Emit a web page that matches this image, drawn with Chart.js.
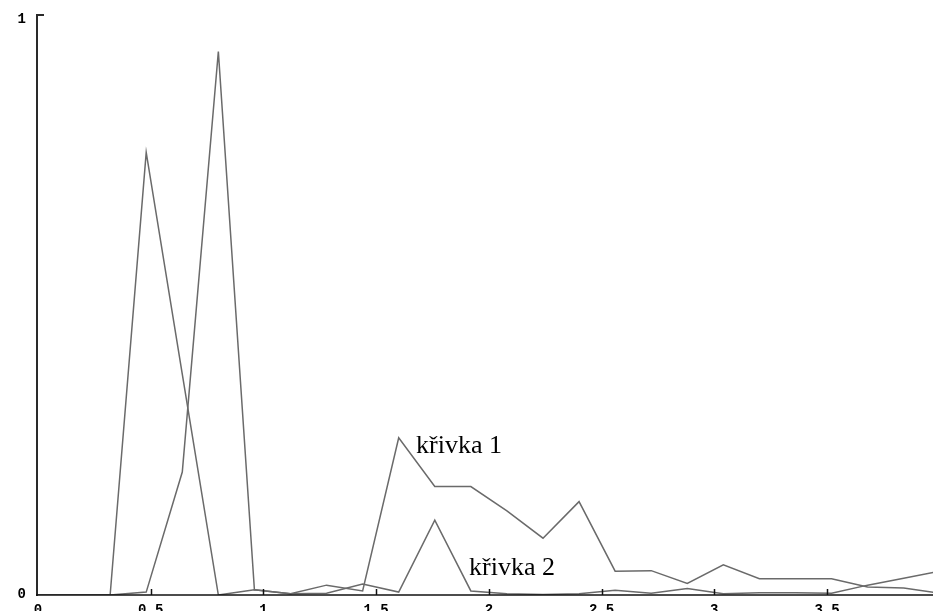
<!DOCTYPE html>
<html>
<head>
<meta charset="utf-8">
<script src="https://cdn.jsdelivr.net/npm/chart.js@4/dist/chart.umd.min.js"></script>
<style>
html,body{margin:0;padding:0;background:#fff;overflow:hidden;}
#wrap{width:933px;height:611px;position:relative;}
</style>
</head>
<body>
<div id="wrap"><canvas id="c" width="933" height="611"></canvas></div>
<script>
// x positions of samples
const xValues = [0, 0.16, 0.32, 0.48, 0.64, 0.80, 0.96, 1.12, 1.28, 1.44, 1.60, 1.76, 1.92,
                 2.08, 2.24, 2.40, 2.56, 2.72, 2.88, 3.04, 3.20, 3.36, 3.52, 3.68, 3.84, 4.00];
// series values
const krivka1 = [0, 0, 0, 0.005, 0.212, 0.937, 0.009, 0.002, 0.017, 0.007, 0.271, 0.187, 0.187,
                 0.145, 0.098, 0.161, 0.041, 0.042, 0.020, 0.052, 0.028, 0.028, 0.028, 0.014, 0.012, 0.003];
const krivka2 = [0, 0, 0, 0.763, 0.381, 0, 0.009, 0.002, 0.003, 0.019, 0.005, 0.129, 0.007,
                 0.002, 0.001, 0.002, 0.008, 0.003, 0.011, 0.002, 0.004, 0.004, 0.003, 0.017, 0.029, 0.041];
// tick labels
const xTicks = [0, 0.5, 1, 1.5, 2, 2.5, 3, 3.5];
const xTickLabels = ['0', '0.5', '1', '1.5', '2', '2.5', '3', '3.5'];
const yTicks = [0, 1];
const yTickLabels = ['0', '1'];
// curve labels: [text, x, y]
const curveLabels = [['křivka 1', 1.677, 0.245], ['křivka 2', 1.912, 0.0345]];

const toPts = ys => ys.map((y, i) => ({x: xValues[i], y: y}));

const axesPlugin = {
  id: 'axesPlugin',
  afterDraw(chart) {
    const ctx = chart.ctx;
    const xs = chart.scales.x, ys = chart.scales.y;
    const a = chart.chartArea;
    ctx.save();
    // y axis
    ctx.strokeStyle = '#2a2a2a';
    ctx.lineWidth = 2;
    ctx.beginPath();
    ctx.moveTo(a.left - 1, ys.getPixelForValue(1));
    ctx.lineTo(a.left - 1, ys.getPixelForValue(0) + 1);
    ctx.stroke();
    // y ticks (inward)
    yTicks.forEach(v => {
      if (v === 0) return;
      const py = ys.getPixelForValue(v);
      ctx.beginPath();
      ctx.moveTo(a.left - 2, py);
      ctx.lineTo(a.left + 6, py);
      ctx.stroke();
    });
    // x axis
    ctx.strokeStyle = '#111';
    ctx.lineWidth = 1.5;
    const py0 = ys.getPixelForValue(0);
    ctx.beginPath();
    ctx.moveTo(a.left - 2, py0);
    ctx.lineTo(chart.width, py0);
    ctx.stroke();
    // x ticks (inward)
    xTicks.forEach(v => {
      if (v === 0) return;
      const px = Math.round(xs.getPixelForValue(v)) + 0.5;
      ctx.beginPath();
      ctx.moveTo(px, py0);
      ctx.lineTo(px, py0 - 6);
      ctx.stroke();
    });
    // tick labels
    ctx.fillStyle = '#000';
    ctx.font = 'bold 14px "Liberation Mono", monospace';
    ctx.textBaseline = 'top';
    ctx.textAlign = 'center';
    xTicks.forEach((v, i) => {
      ctx.fillText(xTickLabels[i], xs.getPixelForValue(v), py0 + 8);
    });
    ctx.textBaseline = 'middle';
    ctx.textAlign = 'right';
    yTicks.forEach((v, i) => {
      ctx.fillText(yTickLabels[i], a.left - 12, ys.getPixelForValue(v) + (v === 1 ? 4 : -1));
    });
    // curve labels
    ctx.font = '26px "Liberation Serif", "Times New Roman", serif';
    ctx.textBaseline = 'alphabetic';
    ctx.textAlign = 'left';
    curveLabels.forEach(([t, x, y]) => {
      ctx.fillText(t, xs.getPixelForValue(x), ys.getPixelForValue(y));
    });
    ctx.restore();
  }
};

const lineStyle = {
  borderColor: '#6a6a6a',
  borderWidth: 1.5,
  pointRadius: 0,
  tension: 0,
  fill: false
};

new Chart(document.getElementById('c'), {
  type: 'line',
  data: {
    datasets: [
      Object.assign({label: 'křivka 1', data: toPts(krivka1)}, lineStyle),
      Object.assign({label: 'křivka 2', data: toPts(krivka2)}, lineStyle)
    ]
  },
  options: {
    responsive: false,
    animation: false,
    events: [],
    layout: {padding: {top: 15, right: 0, left: 0, bottom: 0}},
    plugins: {legend: {display: false}, tooltip: {enabled: false}},
    scales: {
      x: {
        type: 'linear',
        min: 0,
        max: 3.97,
        grid: {display: false, drawTicks: false},
        border: {display: false},
        ticks: {display: false},
        afterFit: s => { s.height = 16; }
      },
      y: {
        type: 'linear',
        min: 0,
        max: 1,
        grid: {display: false, drawTicks: false},
        border: {display: false},
        ticks: {display: false},
        afterFit: s => { s.width = 38; }
      }
    }
  },
  plugins: [axesPlugin]
});
</script>
</body>
</html>
